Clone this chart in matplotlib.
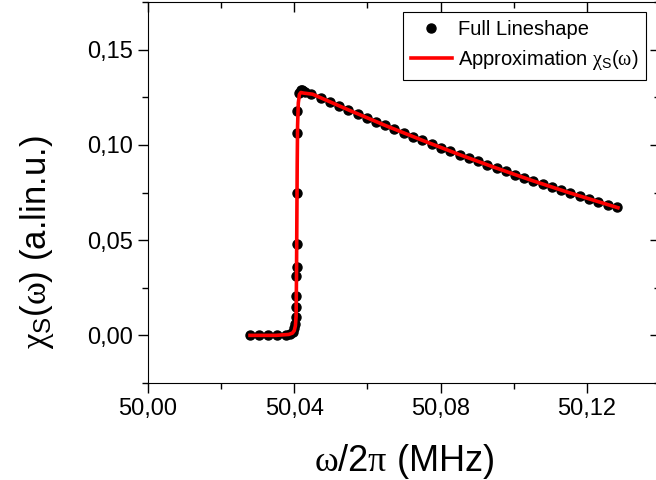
import numpy as np
import matplotlib
matplotlib.use("Agg")
import matplotlib.pyplot as plt
from matplotlib.ticker import MultipleLocator

plt.rcParams['font.family'] = ['Liberation Sans', 'DejaVu Sans']
plt.rcParams['mathtext.fontset'] = 'custom'
plt.rcParams['mathtext.rm'] = 'Liberation Serif'
plt.rcParams['mathtext.it'] = 'Liberation Serif'
plt.rcParams['mathtext.sf'] = 'Liberation Sans'
plt.rcParams['mathtext.bf'] = 'Liberation Sans:bold'

# measured points (full lineshape)
freq_full = [50.0279, 50.0303, 50.0328, 50.0353, 50.0376, 50.0388, 50.0396, 50.0400,
             50.0403, 50.0405, 50.0405, 50.0406, 50.0406, 50.0407, 50.0407, 50.0407,
             50.0407, 50.0407, 50.0414, 50.0417, 50.0420, 50.0424, 50.0430,
             50.0446, 50.0472, 50.0497, 50.0522, 50.0548, 50.0573, 50.0598, 50.0624,
             50.0649, 50.0674, 50.0700, 50.0725, 50.0750, 50.0776, 50.0801, 50.0826,
             50.0852, 50.0877, 50.0902, 50.0927, 50.0953, 50.0978, 50.1003, 50.1029,
             50.1054, 50.1079, 50.1105, 50.1130, 50.1155, 50.1181, 50.1206, 50.1231,
             50.1257, 50.1282]
chi_full = [0.0000, 0.0000, 0.0000, 0.0000, 0.0000, 0.0008, 0.0020, 0.0040,
            0.0060, 0.0094, 0.0147, 0.0205, 0.0310, 0.0360, 0.0480, 0.0745,
            0.1060, 0.1180, 0.1272, 0.1286, 0.1288, 0.1283, 0.1278,
            0.1269, 0.1247, 0.1226, 0.1205, 0.1184, 0.1163, 0.1142, 0.1122,
            0.1102, 0.1082, 0.1062, 0.1043, 0.1024, 0.1005, 0.0986, 0.0967,
            0.0949, 0.0931, 0.0913, 0.0896, 0.0878, 0.0861, 0.0844, 0.0827,
            0.0811, 0.0794, 0.0778, 0.0762, 0.0747, 0.0731, 0.0716, 0.0701,
            0.0687, 0.0672]

# approximation curve
freq_fit = [50.0279, 50.0350, 50.0385, 50.0395, 50.0400, 50.0403, 50.0405, 50.0406,
            50.0407, 50.0408, 50.0409, 50.0411, 50.0414, 50.0418, 50.0425,
            50.045, 50.055, 50.065, 50.075, 50.085, 50.095, 50.105, 50.115, 50.1285]
chi_fit = [0.0000, 0.0000, 0.0005, 0.0012, 0.0025, 0.0050, 0.0100, 0.0300,
           0.0600, 0.0900, 0.1100, 0.1220, 0.1265, 0.1275, 0.1272,
           0.1266, 0.1182, 0.1101, 0.1024, 0.0950, 0.0880, 0.0813, 0.0750, 0.0670]

xticks = [50.00, 50.04, 50.08, 50.12]
xticklabels = ['50,00', '50,04', '50,08', '50,12']
yticks = [0.00, 0.05, 0.10, 0.15]
yticklabels = ['0,00', '0,05', '0,10', '0,15']

fig = plt.figure(figsize=(6.56, 4.80), dpi=100)
ax = fig.add_axes([148/656, 97/480, 512/656, 381/480])

ax.plot(freq_full, chi_full, 'o', color='black', markersize=6.5, label='Full Lineshape', zorder=2)
ax.plot(freq_fit, chi_fit, '-', color='red', lw=2.6,
        label=r'Approximation $\chi_{\mathsf{S}}$($\omega$)', zorder=3)

ax.set_xlim(50.00, 50.14)
ax.set_ylim(-0.025, 0.175)
ax.set_xticks(xticks)
ax.set_xticklabels(xticklabels)
ax.set_yticks(yticks)
ax.set_yticklabels(yticklabels)
ax.xaxis.set_minor_locator(MultipleLocator(0.02))
ax.yaxis.set_minor_locator(MultipleLocator(0.025))

ax.tick_params(which='both', top=True, right=True, labelsize=17, width=1)
ax.tick_params(which='major', direction='out', length=7)
ax.tick_params(which='minor', direction='out', length=4)
# top and right ticks point inward
for t in ax.xaxis.get_major_ticks() + ax.xaxis.get_minor_ticks():
    t.tick2line.set_marker(3)
for t in ax.yaxis.get_major_ticks() + ax.yaxis.get_minor_ticks():
    t.tick2line.set_marker(0)

ax.set_xlabel(r'$\omega$/2$\pi$ (MHz)', fontsize=26, labelpad=16)
ax.set_ylabel(r'$\chi_{\mathsf{S}}$($\omega$) (a.lin.u.)', fontsize=25)
ax.yaxis.set_label_coords(-0.18, 0.37)

leg = ax.legend(loc='upper right', bbox_to_anchor=(646/656, 1 - 12/480),
                bbox_transform=fig.transFigure, borderaxespad=0, fontsize=14.5,
                fancybox=False, edgecolor='black', framealpha=1, handlelength=2.0,
                handletextpad=0.3, borderpad=0.4, labelspacing=0.45)
leg.get_frame().set_linewidth(0.8)

fig.savefig('out.png', dpi=100)
